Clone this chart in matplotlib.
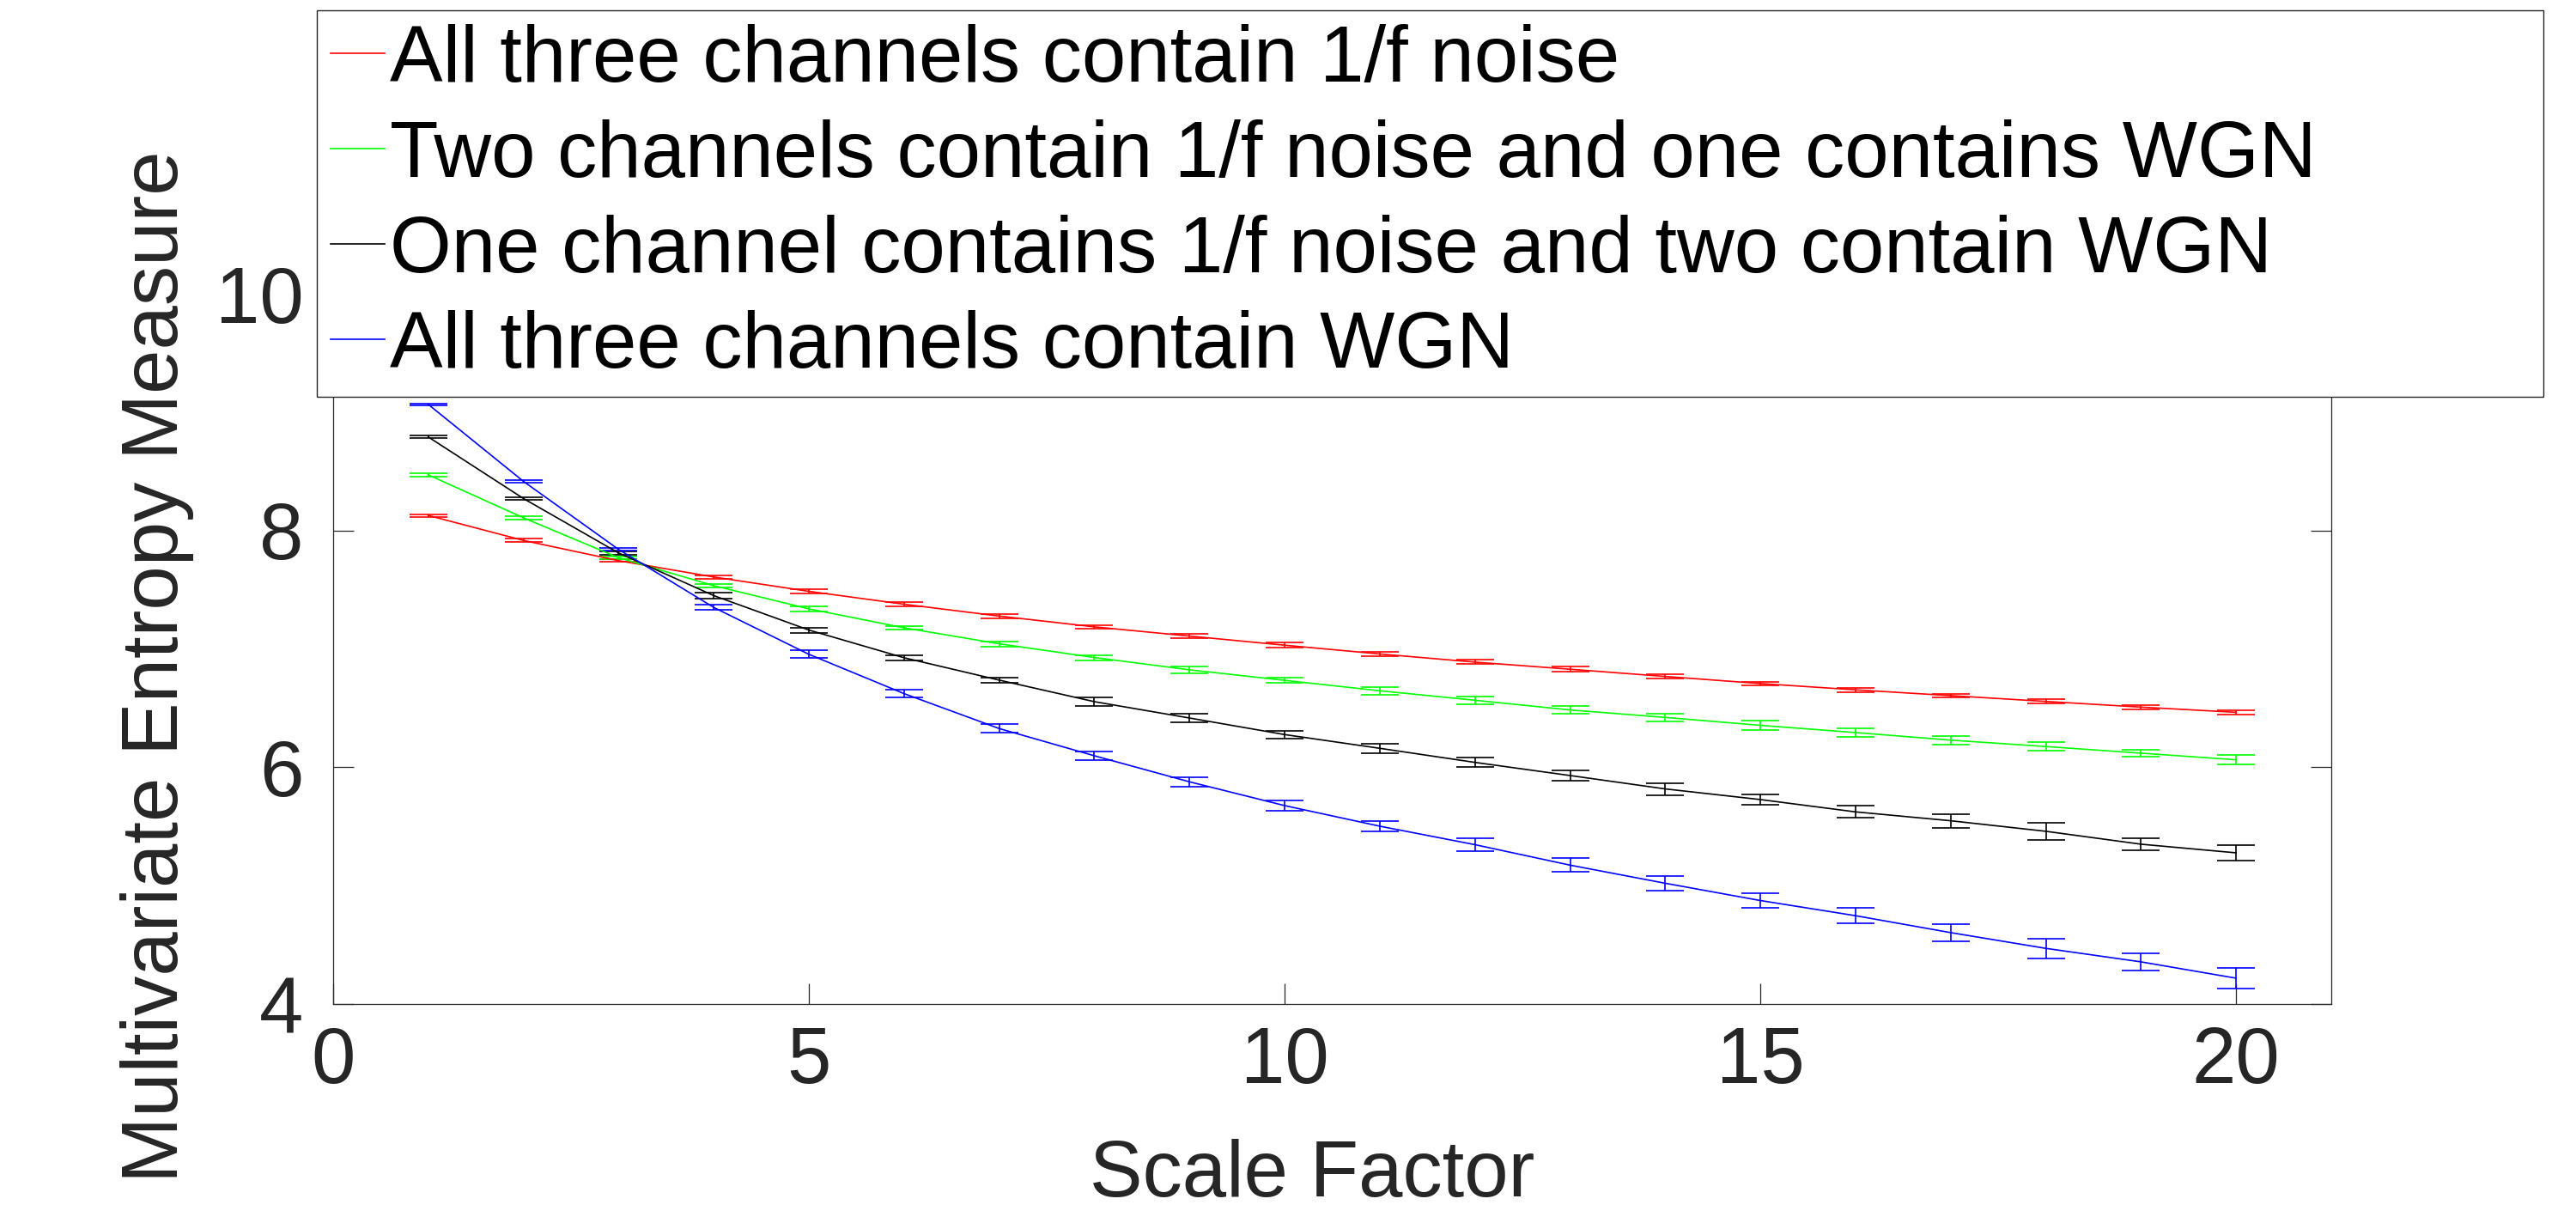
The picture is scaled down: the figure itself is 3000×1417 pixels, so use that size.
import matplotlib
matplotlib.use("Agg")
import matplotlib.pyplot as plt

plt.rcParams['font.family'] = ['Liberation Sans', 'DejaVu Sans']

scales = list(range(1, 21))

labels = [
    "All three channels contain 1/f noise",
    "Two channels contain 1/f noise and one contains WGN",
    "One channel contains 1/f noise and two contain WGN",
    "All three channels contain WGN",
]
colors = ["#ff0000", "#00ff00", "#000000", "#0000ff"]

red_mean = [8.127, 7.916, 7.745, 7.607, 7.486, 7.377, 7.277, 7.186, 7.108, 7.031,
            6.957, 6.888, 6.828, 6.767, 6.707, 6.654, 6.605, 6.556, 6.508, 6.464]
green_mean = [8.470, 8.107, 7.770, 7.534, 7.338, 7.178, 7.043, 6.927, 6.823, 6.734,
              6.646, 6.566, 6.484, 6.421, 6.354, 6.293, 6.229, 6.175, 6.119, 6.063]
black_mean = [8.790, 8.270, 7.810, 7.450, 7.159, 6.925, 6.736, 6.554, 6.416, 6.276,
              6.160, 6.041, 5.930, 5.817, 5.727, 5.623, 5.548, 5.459, 5.350, 5.277]
blue_mean = [9.065, 8.415, 7.840, 7.350, 6.954, 6.622, 6.327, 6.097, 5.877, 5.676,
             5.502, 5.346, 5.173, 5.020, 4.874, 4.746, 4.603, 4.470, 4.356, 4.218]

red_err = [0.011, 0.013, 0.012, 0.016, 0.016, 0.016, 0.017, 0.017, 0.018, 0.021,
           0.017, 0.018, 0.021, 0.017, 0.016, 0.018, 0.017, 0.018, 0.019, 0.018]
green_err = [0.012, 0.012, 0.012, 0.016, 0.023, 0.017, 0.022, 0.022, 0.029, 0.024,
             0.033, 0.034, 0.030, 0.033, 0.039, 0.036, 0.037, 0.036, 0.031, 0.039]
black_err = [0.010, 0.013, 0.013, 0.022, 0.022, 0.024, 0.024, 0.033, 0.033, 0.034,
             0.039, 0.040, 0.046, 0.051, 0.046, 0.050, 0.058, 0.070, 0.053, 0.063]
blue_err = [0.006, 0.013, 0.012, 0.023, 0.033, 0.033, 0.036, 0.036, 0.040, 0.046,
            0.046, 0.052, 0.059, 0.063, 0.063, 0.065, 0.074, 0.083, 0.075, 0.087]

x_ticks = [0, 5, 10, 15, 20]
y_ticks = [4, 6, 8, 10]

W, H = 3000, 1417
fig = plt.figure(figsize=(W / 100, H / 100), dpi=100)
ax = fig.add_axes([388 / W, 1 - 1169 / H, (2715 - 388) / W, (1169 - 342) / H])

FS = 66.5
axcol = "#262626"

means = [red_mean, green_mean, black_mean, blue_mean]
errs = [red_err, green_err, black_err, blue_err]
handles = []
for m, e, c in zip(means, errs, colors):
    eb = ax.errorbar(scales, m, yerr=e, color=c, linewidth=1.2, elinewidth=1.2,
                     capsize=15.8, capthick=1.2)
    handles.append(eb.lines[0])

ax.set_xlim(0, 21)
ax.set_ylim(4, 10)
ax.set_xticks(x_ticks)
ax.set_yticks(y_ticks)
ax.tick_params(axis='both', which='both', direction='in', length=17, width=0.9,
               colors=axcol, labelsize=FS, top=True, right=True)
ax.tick_params(axis='x', pad=18)
ax.tick_params(axis='y', pad=25)
for sp in ax.spines.values():
    sp.set_color(axcol)
    sp.set_linewidth(0.9)

ax.set_xlabel("Scale Factor", fontsize=FS, color=axcol)
ax.xaxis.label.set_va('baseline')
ax.xaxis.set_label_coords((1528 - 388) / (2715 - 388), -(1393 - 1169) / (1169 - 342))
ax.set_ylabel("Multivariate Entropy Measure", fontsize=FS, color=axcol)
ax.yaxis.label.set_va('baseline')
ax.yaxis.set_label_coords((207 - 388) / (2715 - 388), (1169 - 776) / (1169 - 342))

leg = fig.legend(handles, labels, loc='upper left',
                 bbox_to_anchor=(369 / W, 1 - 453 / H, (2962 - 369) / W, (453 - 12) / H),
                 mode='expand', borderaxespad=0, fontsize=FS, frameon=True,
                 fancybox=False, framealpha=1, edgecolor=axcol,
                 handlelength=0.69, handletextpad=0.06, borderpad=0.17,
                 labelspacing=0.27)
leg.get_frame().set_linewidth(1.0)
for t in leg.get_texts():
    t.set_color("black")
for h in leg.legend_handles:
    h.set_linewidth(1.2)

fig.savefig("out.png", dpi=100, facecolor="white")
